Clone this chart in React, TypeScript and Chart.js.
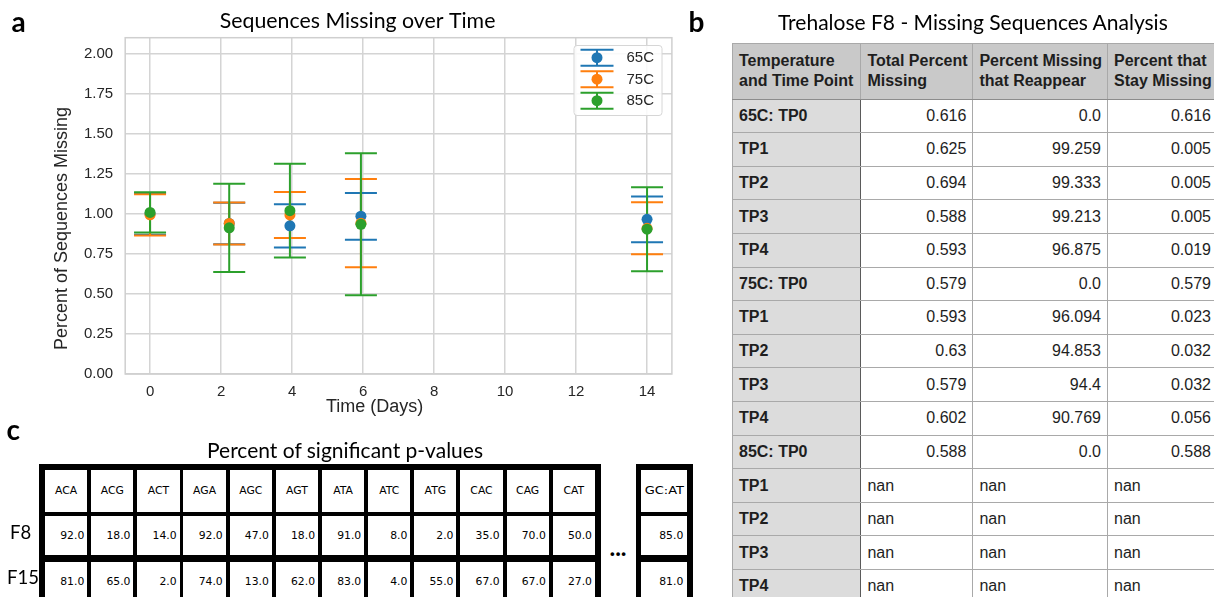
import React, { useEffect, useRef } from 'react';
import { Chart, registerables } from 'chart.js';

Chart.register(...registerables);

// ---- panel a: sequences missing over time ----
const DAYS = [0, 2.23, 3.94, 5.94, 14];
const SERIES_NAMES = ['65C', '75C', '85C'];
const SERIES_COLORS = ['#1f77b4', '#ff7f0e', '#2ca02c'];
const MEAN_65C = [1.0, 0.94, 0.925, 0.985, 0.966];
const ERR_65C = [0.13, 0.13, 0.135, 0.146, 0.143];
const MEAN_75C = [0.994, 0.94, 0.993, 0.942, 0.91];
const ERR_75C = [0.129, 0.131, 0.143, 0.275, 0.163];
const MEAN_85C = [1.009, 0.9125, 1.02, 0.935, 0.904];
const ERR_85C = [0.126, 0.275, 0.293, 0.443, 0.262];
const X_TICKS = [0, 2, 4, 6, 8, 10, 12, 14];
const Y_TICKS = [0, 0.25, 0.5, 0.75, 1.0, 1.25, 1.5, 1.75, 2.0];

// ---- panel b: missing sequences table ----
const B_HEADERS = [
  ['Temperature', 'and Time Point'],
  ['Total Percent', 'Missing'],
  ['Percent Missing', 'that Reappear'],
  ['Percent that', 'Stay Missing'],
];
const B_ROW_LABELS = ['65C: TP0', 'TP1', 'TP2', 'TP3', 'TP4', '75C: TP0', 'TP1', 'TP2', 'TP3', 'TP4', '85C: TP0', 'TP1', 'TP2', 'TP3', 'TP4'];
const B_TOTAL_MISSING = [0.616, 0.625, 0.694, 0.588, 0.593, 0.579, 0.593, 0.63, 0.579, 0.602, 0.588, NaN, NaN, NaN, NaN];
const B_REAPPEAR = [0.0, 99.259, 99.333, 99.213, 96.875, 0.0, 96.094, 94.853, 94.4, 90.769, 0.0, NaN, NaN, NaN, NaN];
const B_STAY_MISSING = [0.616, 0.005, 0.005, 0.005, 0.019, 0.579, 0.023, 0.032, 0.032, 0.056, 0.588, NaN, NaN, NaN, NaN];

// ---- panel c: significant p-values ----
const C_CODONS = ['ACA', 'ACG', 'ACT', 'AGA', 'AGC', 'AGT', 'ATA', 'ATC', 'ATG', 'CAC', 'CAG', 'CAT'];
const C_ROWS = ['F8', 'F15'];
const C_F8 = [92, 18, 14, 92, 47, 18, 91, 8, 2, 35, 70, 50];
const C_F15 = [81, 65, 2, 74, 13, 62, 83, 4, 55, 67, 67, 27];
const C_RATIO_LABEL = 'GC:AT';
const C_RATIO = [85, 81];

const FAMILIES: Record<string, string> = {
  lato: "Lato, 'Open Sans', sans-serif",
  sans: "'Liberation Sans', Arial, sans-serif",
  dejavu: "'DejaVu Sans', sans-serif",
};
const BASELINE: Record<string, number> = { lato: 0.887, sans: 0.8465, dejavu: 0.846 };

function Text(props: {
  x: number; y: number; size: number; font: string; weight?: number;
  align?: 'left' | 'center' | 'right'; color?: string; children: React.ReactNode;
}) {
  const { x, y, size, font, weight = 400, align = 'left', color = '#000', children } = props;
  const style: React.CSSProperties = {
    position: 'absolute',
    top: y - BASELINE[font] * size,
    fontFamily: FAMILIES[font],
    fontSize: size,
    fontWeight: weight,
    lineHeight: 1,
    whiteSpace: 'nowrap',
    color,
    textAlign: align,
  };
  if (align === 'left') style.left = x;
  else if (align === 'center') { style.left = x - 500; style.width = 1000; }
  else { style.left = x - 1000; style.width = 1000; }
  return <div style={style}>{children}</div>;
}

const TEXT_DARK = '#262626';
const GRID = '#d4d4d4';

function MissingChart() {
  const ref = useRef<HTMLCanvasElement>(null);
  useEffect(() => {
    if (!ref.current) return;
    const means = [MEAN_65C, MEAN_75C, MEAN_85C];
    const errs = [ERR_65C, ERR_75C, ERR_85C];
    const CAP = 16;

    const errorBars = {
      id: 'errorBars',
      beforeDatasetsDraw(chart: any) {
        const { ctx, chartArea, scales } = chart;
        const x = scales.x, y = scales.y;
        ctx.save();
        // axes frame
        ctx.strokeStyle = '#cfcfcf';
        ctx.lineWidth = 1.5;
        ctx.strokeRect(chartArea.left, chartArea.top, chartArea.right - chartArea.left, chartArea.bottom - chartArea.top);
        // vertical error bars with caps
        ctx.lineWidth = 2;
        means.forEach((m, si) => {
          ctx.strokeStyle = SERIES_COLORS[si];
          DAYS.forEach((d, i) => {
            const px = x.getPixelForValue(d);
            const top = y.getPixelForValue(m[i] + errs[si][i]);
            const bot = y.getPixelForValue(m[i] - errs[si][i]);
            ctx.beginPath();
            ctx.moveTo(px, top); ctx.lineTo(px, bot);
            ctx.moveTo(px - CAP, top); ctx.lineTo(px + CAP, top);
            ctx.moveTo(px - CAP, bot); ctx.lineTo(px + CAP, bot);
            ctx.stroke();
          });
        });
        ctx.restore();
      },
    };

    const decorations = {
      id: 'decorations',
      afterDraw(chart: any) {
        const { ctx } = chart;
        ctx.save();
        // legend box
        const bx = 574, by = 45.5, bw = 88, bh = 70, r = 3;
        ctx.beginPath();
        ctx.moveTo(bx + r, by);
        ctx.arcTo(bx + bw, by, bx + bw, by + bh, r);
        ctx.arcTo(bx + bw, by + bh, bx, by + bh, r);
        ctx.arcTo(bx, by + bh, bx, by, r);
        ctx.arcTo(bx, by, bx + bw, by, r);
        ctx.closePath();
        ctx.fillStyle = 'rgba(255,255,255,0.85)';
        ctx.fill();
        ctx.strokeStyle = '#d6d6d6';
        ctx.lineWidth = 1;
        ctx.stroke();
        SERIES_NAMES.forEach((name, i) => {
          const cy = 57.7 + i * 21.5;
          const cx = 597;
          ctx.strokeStyle = SERIES_COLORS[i];
          ctx.lineWidth = 2;
          ctx.beginPath();
          ctx.moveTo(cx - 16.5, cy - 8); ctx.lineTo(cx + 16.5, cy - 8);
          ctx.moveTo(cx - 16.5, cy + 8); ctx.lineTo(cx + 16.5, cy + 8);
          ctx.moveTo(cx, cy - 8); ctx.lineTo(cx, cy + 8);
          ctx.stroke();
          ctx.fillStyle = SERIES_COLORS[i];
          ctx.beginPath();
          ctx.arc(cx, cy, 5.5, 0, Math.PI * 2);
          ctx.fill();
          ctx.fillStyle = TEXT_DARK;
          ctx.font = "15px 'Liberation Sans', Arial, sans-serif";
          ctx.textBaseline = 'middle';
          ctx.textAlign = 'left';
          ctx.fillText(name, 626.5, cy + 0.5);
        });
        // titles
        ctx.fillStyle = '#000';
        ctx.textAlign = 'center';
        ctx.textBaseline = 'alphabetic';
        ctx.font = "21.3px Lato, 'Open Sans', sans-serif";
        ctx.fillText('Sequences Missing over Time', 357.6, 28);
        ctx.fillStyle = TEXT_DARK;
        ctx.font = "18px 'Liberation Sans', Arial, sans-serif";
        ctx.textBaseline = 'middle';
        ctx.fillText('Time (Days)', 374.6, 407);
        ctx.translate(62.5, 228.5);
        ctx.rotate(-Math.PI / 2);
        ctx.fillText('Percent of Sequences Missing', 0, 0);
        ctx.restore();
      },
    };

    const chart = new Chart(ref.current, {
      type: 'scatter',
      data: {
        datasets: SERIES_NAMES.map((name, si) => ({
          label: name,
          data: DAYS.map((d, i) => ({ x: d, y: [MEAN_65C, MEAN_75C, MEAN_85C][si][i] })),
          backgroundColor: SERIES_COLORS[si],
          borderWidth: 0,
          pointRadius: 5.5,
          pointHoverRadius: 5.5,
          // later series are painted over earlier ones
          order: SERIES_NAMES.length - 1 - si,
        })),
      },
      options: {
        responsive: false,
        maintainAspectRatio: false,
        animation: false,
        events: [],
        layout: { padding: { left: 0, top: 37.7, right: 28.1, bottom: 0 } },
        plugins: { legend: { display: false }, tooltip: { enabled: false } },
        scales: {
          x: {
            type: 'linear',
            min: -0.7,
            max: 14.7,
            afterBuildTicks: (s: any) => { s.ticks = X_TICKS.map((v) => ({ value: v })); },
            afterFit: (s: any) => { s.height = 46; },
            grid: { color: GRID, lineWidth: 1.5, drawTicks: false },
            border: { display: false },
            ticks: {
              padding: 9,
              color: TEXT_DARK,
              font: { family: "'Liberation Sans', Arial, sans-serif", size: 15 },
              callback: (v: any) => String(v),
            },
          },
          y: {
            type: 'linear',
            min: 0,
            max: 2.1,
            afterBuildTicks: (s: any) => { s.ticks = Y_TICKS.map((v) => ({ value: v })); },
            afterFit: (s: any) => { s.width = 125.2; },
            grid: { color: GRID, lineWidth: 1.5, drawTicks: false },
            border: { display: false },
            ticks: {
              padding: 12,
              color: TEXT_DARK,
              font: { family: "'Liberation Sans', Arial, sans-serif", size: 15 },
              callback: (v: any) => Number(v).toFixed(2),
            },
          },
        },
      },
      plugins: [errorBars, decorations],
    } as any);
    return () => chart.destroy();
  }, []);
  return (
    <canvas
      ref={ref}
      width={700}
      height={420}
      style={{ position: 'absolute', left: 0, top: 0, width: 700, height: 420 }}
    />
  );
}

const fmtB = (v: number) => (Number.isNaN(v) ? 'nan' : Number.isInteger(v) ? v.toFixed(1) : String(v));

function MissingTable() {
  const colW = [128.4, 112, 134.6, 110];
  const cell: React.CSSProperties = {
    border: '1px solid #a9a9a9',
    padding: '0 6px',
    height: 33.62,
    boxSizing: 'border-box',
    whiteSpace: 'nowrap',
    overflow: 'hidden',
  };
  return (
    <table
      style={{
        position: 'absolute', left: 732, top: 43, borderCollapse: 'collapse', tableLayout: 'fixed',
        width: colW.reduce((a, b) => a + b, 0), fontFamily: FAMILIES.sans, fontSize: 16, color: '#1e1e1e',
      }}
    >
      <colgroup>{colW.map((w, i) => <col key={i} style={{ width: w }} />)}</colgroup>
      <thead>
        <tr>
          {B_HEADERS.map((h, i) => (
            <th key={i} style={{ ...cell, height: 55.5, background: '#c9c9c9', textAlign: 'left', fontWeight: 700, lineHeight: '20px', borderBottom: '1px solid #8c8c8c' }}>
              {h[0]}<br />{h[1]}
            </th>
          ))}
        </tr>
      </thead>
      <tbody>
        {B_ROW_LABELS.map((lab, r) => (
          <tr key={r}>
            <td style={{ ...cell, background: '#dcdcdc', fontWeight: 700, borderRight: '1px solid #5a5a5a' }}>{lab}</td>
            {[B_TOTAL_MISSING, B_REAPPEAR, B_STAY_MISSING].map((col, c) => (
              <td key={c} style={{ ...cell, background: '#fff', textAlign: Number.isNaN(col[r]) ? 'left' : 'right' }}>{fmtB(col[r])}</td>
            ))}
          </tr>
        ))}
      </tbody>
    </table>
  );
}

function PValueTable() {
  const rowTops = [470, 515.7, 561.7];
  const rowHeights = [41.7, 39.3, 39.3];
  const cellBox = (left: number, top: number, w: number, h: number): React.CSSProperties => ({
    position: 'absolute', left, top, width: w, height: h, background: '#fff',
    fontFamily: FAMILIES.dejavu, fontSize: 10.8, color: '#000', display: 'flex', alignItems: 'center',
    boxSizing: 'border-box',
  });
  const rowsMain = [C_F8, C_F15];
  const cells: React.ReactNode[] = [];
  C_CODONS.forEach((codon, j) => {
    const left = 45 + j * 46.15;
    cells.push(
      <div key={`h${j}`} style={{ ...cellBox(left, rowTops[0], 42.3, rowHeights[0]), justifyContent: 'center' }}>{codon}</div>
    );
    rowsMain.forEach((row, r) => {
      cells.push(
        <div key={`v${r}-${j}`} style={{ ...cellBox(left, rowTops[r + 1], 42.3, rowHeights[r + 1]), justifyContent: 'flex-end', paddingRight: 3 }}>
          {row[j].toFixed(1)}
        </div>
      );
    });
  });
  cells.push(
    <div key="rh" style={{ ...cellBox(640.7, rowTops[0], 46.6, rowHeights[0]), justifyContent: 'center' }}>
      <span style={{ display: 'inline-block', transform: 'scaleX(1.2)' }}>{C_RATIO_LABEL}</span>
    </div>
  );
  C_RATIO.forEach((v, r) => {
    cells.push(
      <div key={`rv${r}`} style={{ ...cellBox(640.7, rowTops[r + 1], 46.6, rowHeights[r + 1]), justifyContent: 'flex-end', paddingRight: 4 }}>
        {v.toFixed(1)}
      </div>
    );
  });
  return (
    <>
      <div style={{ position: 'absolute', left: 39.3, top: 463.5, width: 561.4, height: 200, background: '#000' }} />
      <div style={{ position: 'absolute', left: 635.7, top: 463.5, width: 57, height: 200, background: '#000' }} />
      {cells}
    </>
  );
}

export default function App() {
  return (
    <div style={{ position: 'absolute', left: 0, top: 0, width: 1214, height: 597, overflow: 'hidden', background: '#fff' }}>
      <MissingChart />
      <Text x={11.5} y={32} size={28} font="lato" weight={700}>a</Text>
      <Text x={688.5} y={31.5} size={28} font="lato" weight={700}>b</Text>
      <Text x={6.5} y={440} size={28} font="lato" weight={700}>c</Text>

      <Text x={972.9} y={30} size={21} font="lato" align="center">Trehalose F8 - Missing Sequences Analysis</Text>
      <MissingTable />

      <Text x={345} y={457.7} size={21} font="lato" align="center">Percent of significant p-values</Text>
      <PValueTable />
      {C_ROWS.map((r, i) => (
        <Text key={r} x={i === 0 ? 10 : 7} y={[539, 584][i]} size={18.5} font="lato">{r}</Text>
      ))}
      <Text x={618} y={556} size={24} font="lato" weight={700} align="center">...</Text>
    </div>
  );
}
